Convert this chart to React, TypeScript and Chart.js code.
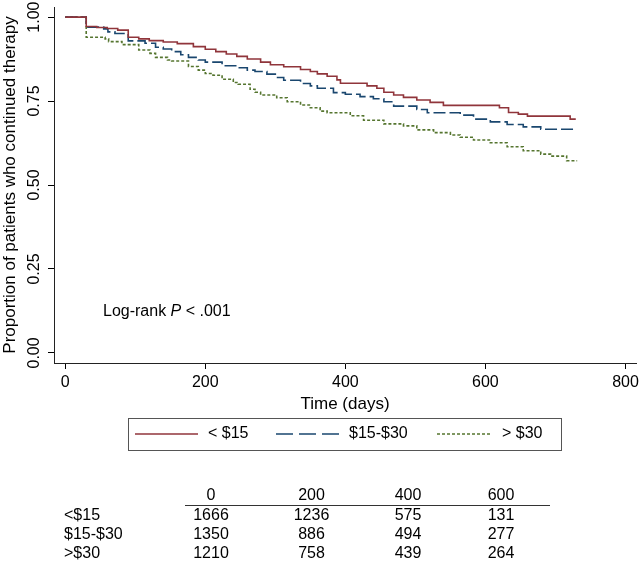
import { useEffect, useRef } from "react";
import { Chart, registerables } from "chart.js";

Chart.register(...registerables);

// ---------- data ----------
const SERIES_NAMES = ["< $15", "$15-$30", "> $30"];

const LOW_DAYS = [0, 30, 45, 60, 75, 90, 105, 120, 140, 160, 183, 200, 215, 230, 245, 260, 279, 293, 312, 336, 350, 360, 374, 388, 393, 431, 445, 455, 469, 483, 502, 521, 540, 620, 633, 647, 660, 721, 729];
const LOW_SURV = [1.0, 0.972, 0.969, 0.966, 0.961, 0.940, 0.935, 0.930, 0.926, 0.921, 0.912, 0.904, 0.897, 0.890, 0.883, 0.875, 0.866, 0.858, 0.852, 0.844, 0.838, 0.831, 0.824, 0.813, 0.803, 0.795, 0.788, 0.776, 0.768, 0.761, 0.753, 0.746, 0.737, 0.730, 0.716, 0.711, 0.705, 0.696, 0.696];

const MID_DAYS = [0, 30, 55, 61, 71, 90, 114, 129, 140, 152, 165, 176, 190, 200, 224, 247, 260, 271, 288, 300, 312, 336, 350, 360, 383, 400, 421, 440, 455, 469, 502, 517, 564, 583, 607, 631, 654, 679, 729];
const MID_SURV = [1.0, 0.970, 0.965, 0.956, 0.951, 0.929, 0.922, 0.910, 0.905, 0.897, 0.888, 0.880, 0.872, 0.866, 0.855, 0.849, 0.842, 0.838, 0.830, 0.820, 0.812, 0.802, 0.795, 0.788, 0.775, 0.770, 0.763, 0.757, 0.748, 0.735, 0.725, 0.715, 0.708, 0.696, 0.688, 0.680, 0.673, 0.666, 0.665];

const HIGH_DAYS = [0, 30, 57, 62, 81, 105, 121, 129, 146, 152, 176, 190, 200, 211, 224, 240, 247, 264, 271, 279, 302, 317, 336, 350, 364, 374, 407, 426, 455, 483, 502, 526, 550, 564, 583, 607, 631, 654, 679, 693, 716, 731];
const HIGH_SURV = [1.0, 0.940, 0.935, 0.927, 0.918, 0.902, 0.892, 0.880, 0.872, 0.869, 0.853, 0.842, 0.832, 0.827, 0.815, 0.805, 0.800, 0.785, 0.776, 0.768, 0.760, 0.748, 0.738, 0.730, 0.720, 0.715, 0.706, 0.693, 0.682, 0.676, 0.664, 0.656, 0.649, 0.642, 0.634, 0.626, 0.614, 0.602, 0.592, 0.586, 0.572, 0.572];

const X_TICKS = [0, 200, 400, 600, 800];
const Y_TICKS = [0, 0.25, 0.5, 0.75, 1];
const Y_TICK_LABELS = ["0.00", "0.25", "0.50", "0.75", "1.00"];

const X_TITLE = "Time (days)";
const Y_TITLE = "Proportion of patients who continued therapy";

const RISK_TIMES = ["0", "200", "400", "600"];
const RISK_GROUPS = ["<$15", "$15-$30", ">$30"];
const RISK_LOW = [1666, 1236, 575, 131];
const RISK_MID = [1350, 886, 494, 277];
const RISK_HIGH = [1210, 758, 439, 264];

// ---------- styles ----------
const FONT = "'Liberation Sans', Arial, sans-serif";
const COLORS = ["rgb(144,53,59)", "rgb(26,71,111)", "rgb(85,117,47)"];
const DASHES: number[][] = [[], [12, 4], [3, 2]];

const toPoints = (xs: number[], ys: number[]) => xs.map((x, i) => ({ x, y: ys[i] }));

const overlayPlugin = {
  id: "overlay",
  afterDraw(chart: any) {
    const ctx = chart.ctx as CanvasRenderingContext2D;
    const ys = chart.scales.y;
    const area = chart.chartArea;
    ctx.save();
    ctx.fillStyle = "#000";

    // y tick labels (rotated)
    ctx.font = `16px ${FONT}`;
    Y_TICKS.forEach((v, i) => {
      const py = ys.getPixelForValue(v);
      ctx.save();
      ctx.translate(39, py);
      ctx.rotate(-Math.PI / 2);
      ctx.textAlign = "center";
      ctx.textBaseline = "alphabetic";
      ctx.fillText(Y_TICK_LABELS[i], 0, 0);
      ctx.restore();
    });

    // y title
    ctx.font = `17px ${FONT}`;
    ctx.save();
    ctx.translate(14.5, (area.top + area.bottom) / 2);
    ctx.rotate(-Math.PI / 2);
    ctx.textAlign = "center";
    ctx.textBaseline = "alphabetic";
    ctx.fillText(Y_TITLE, 0, 0);
    ctx.restore();

    // x title
    ctx.textAlign = "center";
    ctx.textBaseline = "middle";
    ctx.fillText(X_TITLE, (area.left + area.right) / 2, 404);

    // annotation
    ctx.font = `16px ${FONT}`;
    ctx.textAlign = "left";
    let ax = 103;
    const ay = 312;
    const t1 = "Log-rank ";
    ctx.fillText(t1, ax, ay);
    ax += ctx.measureText(t1).width;
    ctx.font = `italic 16px ${FONT}`;
    ctx.fillText("P", ax, ay);
    ax += ctx.measureText("P").width;
    ctx.font = `16px ${FONT}`;
    ctx.fillText(" < .001", ax, ay);

    // legend
    ctx.strokeStyle = "#555";
    ctx.lineWidth = 1;
    ctx.strokeRect(128.5, 418.5, 433, 32);
    const legendItems = [
      { x1: 135, x2: 198, tx: 208 },
      { x1: 276, x2: 339, tx: 349 },
      { x1: 437, x2: 490, tx: 502 },
    ];
    const ly = 434;
    chart.data.datasets.forEach((ds: any, i: number) => {
      const it = legendItems[i];
      ctx.save();
      ctx.strokeStyle = ds.borderColor;
      ctx.lineWidth = ds.borderWidth;
      ctx.setLineDash(i === 1 ? [17, 6] : ds.borderDash || []);
      ctx.beginPath();
      ctx.moveTo(it.x1, ly);
      ctx.lineTo(it.x2, ly);
      ctx.stroke();
      ctx.restore();
      ctx.fillStyle = "#000";
      ctx.font = `16px ${FONT}`;
      ctx.textAlign = "left";
      ctx.textBaseline = "middle";
      ctx.fillText(SERIES_NAMES[i], it.tx, ly);
    });

    // risk table
    const colX = [211, 311.5, 408, 501];
    const headY = 496;
    const rowY = [515.5, 535, 554];
    ctx.font = `16px ${FONT}`;
    ctx.textBaseline = "middle";
    ctx.textAlign = "center";
    RISK_TIMES.forEach((t, i) => ctx.fillText(t, colX[i], headY));
    ctx.strokeStyle = "#333";
    ctx.lineWidth = 1;
    ctx.beginPath();
    ctx.moveTo(185, 505.5);
    ctx.lineTo(550, 505.5);
    ctx.stroke();
    const rows = [RISK_LOW, RISK_MID, RISK_HIGH];
    rows.forEach((row, r) => {
      ctx.textAlign = "left";
      ctx.fillText(RISK_GROUPS[r], 64, rowY[r]);
      ctx.textAlign = "center";
      row.forEach((n, c) => ctx.fillText(String(n), colX[c], rowY[r]));
    });

    ctx.restore();
  },
};

export default function App() {
  const ref = useRef<HTMLCanvasElement | null>(null);

  useEffect(() => {
    if (!ref.current) return;
    Chart.defaults.font.family = FONT;
    const chart = new Chart(ref.current, {
      type: "line",
      data: {
        datasets: [
          { label: SERIES_NAMES[0], data: toPoints(LOW_DAYS, LOW_SURV) },
          { label: SERIES_NAMES[1], data: toPoints(MID_DAYS, MID_SURV) },
          { label: SERIES_NAMES[2], data: toPoints(HIGH_DAYS, HIGH_SURV) },
        ].map((d, i) => ({
          ...d,
          borderColor: COLORS[i],
          backgroundColor: COLORS[i],
          borderWidth: 1.6,
          borderDash: DASHES[i],
          stepped: "before" as const,
          pointRadius: 0,
          fill: false,
        })),
      },
      options: {
        animation: false,
        responsive: false,
        devicePixelRatio: 1,
        layout: { padding: { top: 7, right: 4, bottom: 162, left: 0 } },
        plugins: { legend: { display: false }, tooltip: { enabled: false } },
        scales: {
          x: {
            type: "linear",
            min: -16,
            max: 815,
            afterBuildTicks: (s: any) => {
              s.ticks = X_TICKS.map((v) => ({ value: v }));
            },
            afterFit: (s: any) => {
              s.height = 40;
              s.paddingLeft = 0;
              s.paddingRight = 0;
              s.paddingTop = 0;
              s.paddingBottom = 0;
            },
            ticks: {
              color: "#000",
              font: { size: 16, family: FONT },
              padding: 4,
              maxRotation: 0,
              minRotation: 0,
              callback: (v: any) => String(v),
            },
            grid: { drawOnChartArea: false, drawTicks: true, tickLength: 6, color: "#000", lineWidth: 1 },
            border: { display: true, color: "#222", width: 1 },
          },
          y: {
            type: "linear",
            min: -0.03,
            max: 1.03,
            afterBuildTicks: (s: any) => {
              s.ticks = Y_TICKS.map((v) => ({ value: v }));
            },
            afterFit: (s: any) => {
              s.width = 54;
              s.paddingLeft = 0;
              s.paddingRight = 0;
              s.paddingTop = 0;
              s.paddingBottom = 0;
            },
            ticks: { display: false },
            grid: { drawOnChartArea: false, drawTicks: true, tickLength: 6, color: "#000", lineWidth: 1 },
            border: { display: true, color: "#222", width: 1 },
          },
        },
      },
      plugins: [overlayPlugin],
    });
    return () => chart.destroy();
  }, []);

  return (
    <div style={{ position: "fixed", left: 0, top: 0, width: 640, height: 565, background: "#fff" }}>
      <canvas ref={ref} width={640} height={565} style={{ display: "block" }} />
    </div>
  );
}
